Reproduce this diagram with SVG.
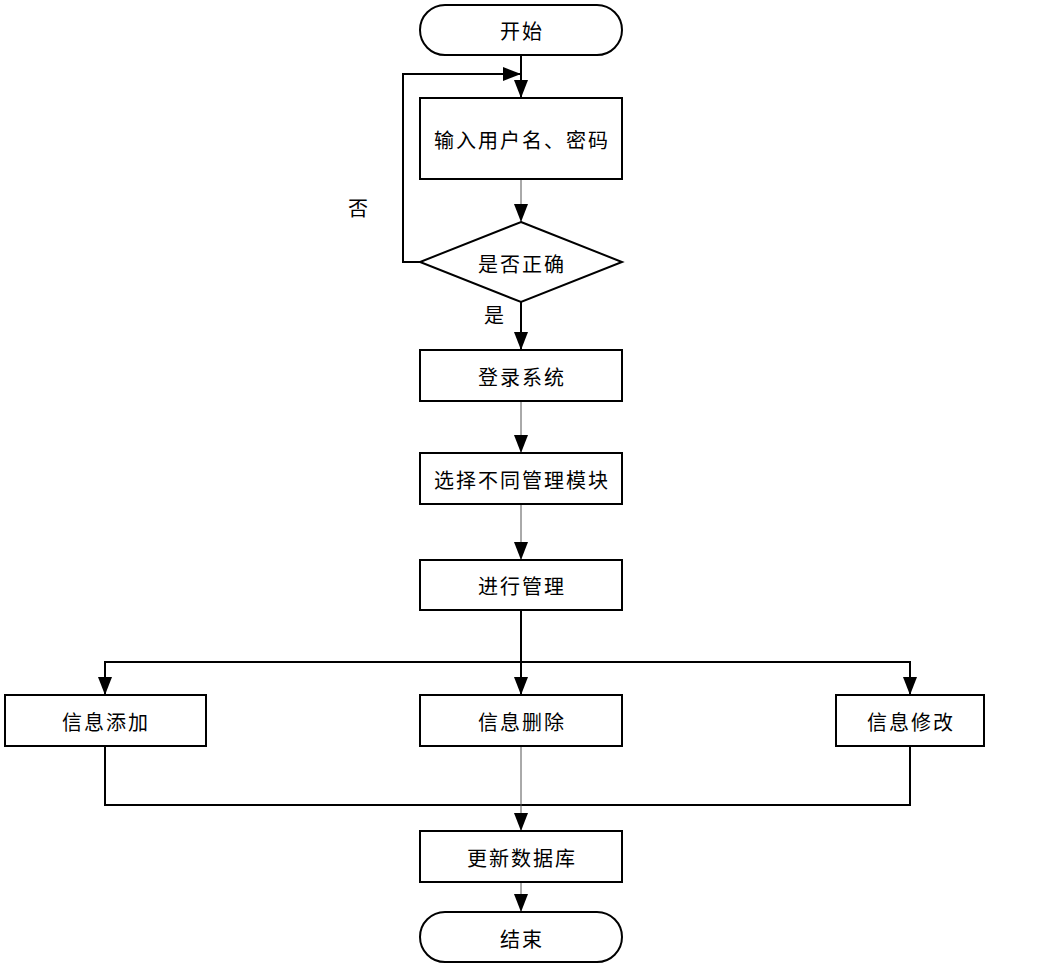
<svg xmlns="http://www.w3.org/2000/svg" width="1040" height="968" viewBox="0 0 1040 968">
<defs>
<style>
.n{fill:#fff;stroke:#000;stroke-width:2}
.t{font-family:"Noto Sans CJK SC","Liberation Sans",sans-serif;font-size:20px;letter-spacing:2px;fill:#000;text-anchor:middle;dominant-baseline:central}
.c{fill:none;stroke:#000;stroke-width:2}
.ct{fill:none;stroke:#555;stroke-width:1}
</style>
<marker id="a" viewBox="0 0 18 14" refX="18" refY="7" markerWidth="18" markerHeight="14" markerUnits="userSpaceOnUse" orient="auto">
<path d="M0,0 L18,7 L0,14 Z" fill="#000"/>
</marker>
</defs>
<rect width="1040" height="968" fill="#fff"/>
<g id="connectors">
<line class="c" x1="521" y1="55" x2="521" y2="98" marker-end="url(#a)"/>
<polyline class="c" points="420,262 403,262 403,74 521,74" marker-end="url(#a)"/>
<line class="ct" x1="521" y1="179" x2="521" y2="222" marker-end="url(#a)"/>
<line class="c" x1="521" y1="302" x2="521" y2="350" marker-end="url(#a)"/>
<line class="ct" x1="521" y1="401" x2="521" y2="453" marker-end="url(#a)"/>
<line class="ct" x1="521" y1="504" x2="521" y2="560" marker-end="url(#a)"/>
<line class="c" x1="521" y1="610" x2="521" y2="695" marker-end="url(#a)"/>
<polyline class="c" points="105,680 105,662 910,662 910,680"/>
<line class="c" x1="105" y1="670" x2="105" y2="695" marker-end="url(#a)"/>
<line class="c" x1="910" y1="670" x2="910" y2="695" marker-end="url(#a)"/>
<polyline class="c" points="105,746 105,805 910,805 910,746"/>
<line class="ct" x1="521" y1="746" x2="521" y2="831" marker-end="url(#a)"/>
<line class="ct" x1="521" y1="882" x2="521" y2="912" marker-end="url(#a)"/>
<text class="t" x="359" y="207">否</text>
<text class="t" x="495" y="314">是</text>
</g>
<g id="start"><rect class="n" x="420" y="5" width="202" height="50" rx="25"/><text class="t" x="522" y="30">开始</text></g>
<g id="input"><rect class="n" x="420" y="98" width="202" height="81"/><text class="t" x="522" y="139">输入用户名、密码</text></g>
<g id="check"><polygon class="n" points="521,222 622,262 521,302 420,262"/><text class="t" x="522" y="263">是否正确</text></g>
<g id="login"><rect class="n" x="420" y="350" width="202" height="51"/><text class="t" x="522" y="376">登录系统</text></g>
<g id="select"><rect class="n" x="420" y="453" width="202" height="51"/><text class="t" x="522" y="479">选择不同管理模块</text></g>
<g id="manage"><rect class="n" x="420" y="560" width="202" height="50"/><text class="t" x="522" y="585">进行管理</text></g>
<g id="add"><rect class="n" x="5" y="695" width="201" height="51"/><text class="t" x="106" y="721">信息添加</text></g>
<g id="del"><rect class="n" x="420" y="695" width="202" height="51"/><text class="t" x="522" y="721">信息删除</text></g>
<g id="mod"><rect class="n" x="836" y="695" width="148" height="51"/><text class="t" x="911" y="721">信息修改</text></g>
<g id="update"><rect class="n" x="420" y="831" width="202" height="51"/><text class="t" x="522" y="857">更新数据库</text></g>
<g id="end"><rect class="n" x="420" y="912" width="202" height="50" rx="25"/><text class="t" x="522" y="938">结束</text></g>
</svg>
